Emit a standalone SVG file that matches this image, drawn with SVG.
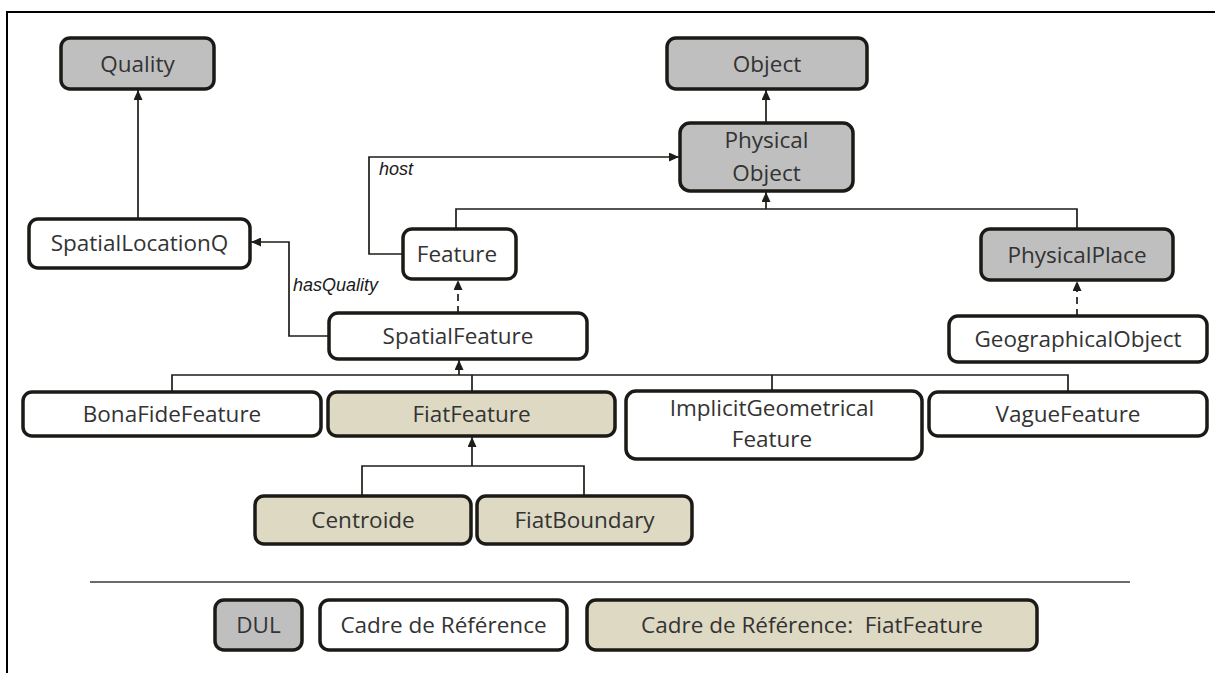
<svg xmlns="http://www.w3.org/2000/svg" width="1215" height="673" viewBox="0 0 1215 673">
<style>
.box{stroke:#1c1a16;stroke-width:3.5}
.dul{fill:#bfbfbf}
.ref{fill:#ffffff}
.fiat{fill:#ddd9c3}
.t{font-family:"Open Sans","Liberation Sans",sans-serif;font-size:22.5px;fill:#333333;text-anchor:middle}
.lbl{font-family:"Liberation Sans",Arial,sans-serif;font-size:18px;font-style:italic;fill:#1a1a1a}
.c{fill:none;stroke:#1f1d18;stroke-width:1.7}
.d{stroke-dasharray:7,5}
</style>
<defs>
<marker id="ah" markerUnits="userSpaceOnUse" markerWidth="10" markerHeight="9" viewBox="0 0 10 9" refX="10" refY="4.5" orient="auto">
<path d="M0,0 L10,4.5 L0,9 z" fill="#1f1d18"/>
</marker>
</defs>
<rect width="1215" height="673" fill="#ffffff"/>
<g id="frame" fill="none" stroke="#000" stroke-width="2">
<path d="M7,673 V12 H1215"/>
</g>
<g id="connectors">
<path class="c" d="M138,219 V90" marker-end="url(#ah)"/>
<path class="c" d="M766,123 V90" marker-end="url(#ah)"/>
<path class="c" d="M403,254 H369 V157 H679" marker-end="url(#ah)"/>
<path class="c" d="M456,229 V209 H1077 V229"/>
<path class="c" d="M766,209 V192" marker-end="url(#ah)"/>
<path class="c d" d="M458,313 V280" marker-end="url(#ah)"/>
<path class="c d" d="M1077,316 V281" marker-end="url(#ah)"/>
<path class="c" d="M329,336 H289 V242 H251" marker-end="url(#ah)"/>
<path class="c" d="M172,392 V375 H1068 V392"/>
<path class="c" d="M472,375 V392"/>
<path class="c" d="M772,375 V391"/>
<path class="c" d="M459,375 V360" marker-end="url(#ah)"/>
<path class="c" d="M362,496 V466 H584 V496"/>
<path class="c" d="M472,466 V437" marker-end="url(#ah)"/>
<text class="lbl" x="379" y="175">host</text>
<text class="lbl" x="293" y="291">hasQuality</text>
</g>
<g id="quality"><rect class="box dul" x="61" y="38" width="153" height="51" rx="9"/><text class="t" x="137.5" y="72">Quality</text></g>
<g id="object"><rect class="box dul" x="667" y="38" width="200" height="51" rx="9"/><text class="t" x="767" y="72">Object</text></g>
<g id="physicalobject"><rect class="box dul" x="680" y="123" width="173" height="68" rx="10"/><text class="t" x="766.5" y="148">Physical</text><text class="t" x="766.5" y="181">Object</text></g>
<g id="spatiallocationq"><rect class="box ref" x="29" y="219" width="221" height="49" rx="9"/><text class="t" x="139.5" y="251">SpatialLocationQ</text></g>
<g id="feature"><rect class="box ref" x="403" y="229" width="113" height="50" rx="9"/><text class="t" x="457" y="262">Feature</text></g>
<g id="physicalplace"><rect class="box dul" x="981" y="229" width="192" height="51" rx="9"/><text class="t" x="1077" y="263">PhysicalPlace</text></g>
<g id="spatialfeature"><rect class="box ref" x="329" y="313" width="258" height="46" rx="9"/><text class="t" x="458" y="344">SpatialFeature</text></g>
<g id="geographicalobject"><rect class="box ref" x="949" y="316" width="258" height="46" rx="9"/><text class="t" x="1078" y="347">GeographicalObject</text></g>
<g id="bonafidefeature"><rect class="box ref" x="23" y="392" width="298" height="44" rx="9"/><text class="t" x="172" y="422">BonaFideFeature</text></g>
<g id="fiatfeature"><rect class="box fiat" x="328" y="392" width="287" height="44" rx="9"/><text class="t" x="471.5" y="422">FiatFeature</text></g>
<g id="implicitgeometricalfeature"><rect class="box ref" x="626" y="391" width="296" height="68" rx="10"/><text class="t" x="772" y="416">ImplicitGeometrical</text><text class="t" x="772" y="447">Feature</text></g>
<g id="vaguefeature"><rect class="box ref" x="929" y="392" width="278" height="44" rx="9"/><text class="t" x="1068" y="422">VagueFeature</text></g>
<g id="centroide"><rect class="box fiat" x="255" y="496" width="216" height="48" rx="9"/><text class="t" x="363" y="528">Centroide</text></g>
<g id="fiatboundary"><rect class="box fiat" x="477" y="496" width="215" height="48" rx="9"/><text class="t" x="584.5" y="528">FiatBoundary</text></g>
<g id="separator"><path d="M90,582 H1130" stroke="#3a3a3a" stroke-width="1.5" fill="none"/></g>
<g id="legend-dul"><rect class="box dul" x="215" y="600" width="87" height="50" rx="9"/><text class="t" x="258.5" y="633">DUL</text></g>
<g id="legend-ref"><rect class="box ref" x="320" y="600" width="247" height="50" rx="9"/><text class="t" x="443.5" y="633">Cadre de Référence</text></g>
<g id="legend-fiat"><rect class="box fiat" x="587" y="600" width="450" height="50" rx="9"/><text class="t" x="812" y="633" style="white-space:pre">Cadre de Référence:  FiatFeature</text></g>
</svg>
